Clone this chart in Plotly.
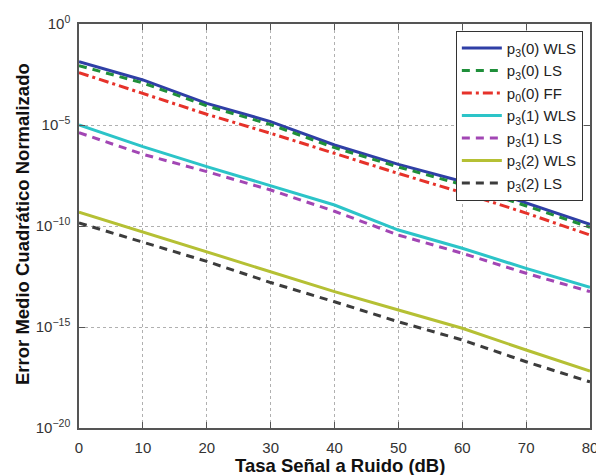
import plotly.graph_objects as go

snr_db = [0, 10, 20, 30, 40, 50, 60, 70, 80]

# log10 of normalized MSE
p3_0_wls = [-1.87, -2.77, -3.93, -4.83, -5.99, -6.95, -7.80, -8.87, -9.92]
p3_0_ls = [-2.06, -2.92, -4.05, -4.98, -6.12, -7.08, -7.95, -9.00, -10.06]
p0_0_ff = [-2.41, -3.43, -4.47, -5.41, -6.40, -7.40, -8.35, -9.36, -10.45]
p3_1_wls = [-5.00, -6.07, -7.06, -8.00, -8.96, -10.20, -11.10, -12.10, -13.03]
p3_1_ls = [-5.38, -6.45, -7.31, -8.22, -9.27, -10.45, -11.35, -12.34, -13.25]
p3_2_wls = [-9.31, -10.30, -11.30, -12.28, -13.25, -14.16, -15.06, -16.14, -17.18]
p3_2_ls = [-9.85, -10.80, -11.75, -12.80, -13.75, -14.74, -15.64, -16.72, -17.72]

series_names = ["p<sub>3</sub>(0) WLS", "p<sub>3</sub>(0) LS", "p<sub>0</sub>(0) FF",
                "p<sub>3</sub>(1) WLS", "p<sub>3</sub>(1) LS", "p<sub>3</sub>(2) WLS",
                "p<sub>3</sub>(2) LS"]
series_vals = [p3_0_wls, p3_0_ls, p0_0_ff, p3_1_wls, p3_1_ls, p3_2_wls, p3_2_ls]
colors = ["#2f3fa6", "#1f8f3a", "#e6322a", "#2cc4c8", "#a246b4", "#b5c034", "#3c3c3c"]
dashes = ["solid", "8px,6px", "10px,4px,3px,4px", "solid", "8px,6px", "solid", "8px,6px"]

y_tickvals = [1, 1e-5, 1e-10, 1e-15, 1e-20]
y_ticktext = ["10<sup>0</sup>", "10<sup>−5</sup>", "10<sup>−10</sup>", "10<sup>−15</sup>", "10<sup>−20</sup>"]
x_tickvals = [0, 10, 20, 30, 40, 50, 60, 70, 80]

x_title = "<b>Tasa Señal a Ruido (dB)</b>"
y_title = "<b>Error Medio Cuadrático Normalizado</b>"

fig = go.Figure()
for name, vals, c, d in zip(series_names, series_vals, colors, dashes):
    fig.add_trace(go.Scatter(
        x=snr_db, y=[10 ** v for v in vals], mode="lines", name=name,
        line=dict(color=c, width=3, dash=d)))

axis_common = dict(
    showline=True, linecolor="#555555", linewidth=1.5, mirror="ticks",
    ticks="inside", ticklen=6, tickcolor="#555555",
    showgrid=True, gridcolor="#b0b0b0", griddash="dot", gridwidth=1,
    zeroline=False, automargin=False,
)

tick_font = dict(family="Liberation Sans, Arial", size=15, color="#333333")
title_font = dict(family="Liberation Sans, Arial", size=18.5, color="#111111")

# page body has an 8px default margin, so the figure is 8px smaller each way
fig.update_layout(
    width=596, height=467,
    margin=dict(l=71, r=14, t=16, b=47),
    paper_bgcolor="white", plot_bgcolor="white",
    showlegend=True,
    legend=dict(
        x=0.986, y=0.983, xanchor="right", yanchor="top",
        bgcolor="white", bordercolor="#333333", borderwidth=1,
        font=dict(family="Liberation Sans, Arial", size=15, color="#222222"),
        itemwidth=40,
    ),
    xaxis=dict(range=[0, 80], tickvals=x_tickvals, ticklabelstandoff=5,
               tickfont=tick_font, **axis_common),
    yaxis=dict(type="log", range=[-20, 0], tickvals=y_tickvals, ticktext=y_ticktext,
               ticklabelstandoff=4, tickfont=tick_font, **axis_common),
    annotations=[
        dict(text=x_title, xref="paper", yref="paper", x=0.51, y=0,
             xanchor="center", yanchor="middle", yshift=-37, showarrow=False,
             font=title_font),
        dict(text=y_title, xref="paper", yref="paper", x=0, y=0.505,
             xanchor="center", yanchor="middle", xshift=-56, showarrow=False,
             textangle=-90, font=title_font),
    ],
)

fig.write_html("out.html")
